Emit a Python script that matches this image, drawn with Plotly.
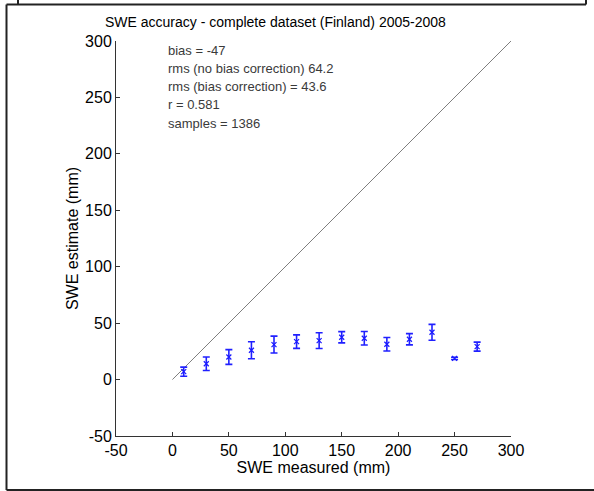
import plotly.graph_objects as go

# ---- data ----
swe_measured = [10, 30, 50, 70, 90, 110, 130, 150, 170, 190, 210, 230, 250, 270]
swe_estimate = [7, 14, 20, 26, 31, 33.6, 34.5, 37.5, 36.6, 31.3, 35.7, 41.9, 18.8, 29.2]
swe_error = [4, 6, 6.5, 7.5, 7.5, 6, 7, 5, 6, 6, 5, 7, 1, 4]
line_x = [0, 300]
line_y = [0, 300]
stats_lines = [
    "bias = -47",
    "rms (no bias correction) 64.2",
    "rms (bias correction) = 43.6",
    "r = 0.581",
    "samples = 1386",
]
tick_vals = [-50, 0, 50, 100, 150, 200, 250, 300]
tick_text = ["-50", "0", "50", "100", "150", "200", "250", "300"]

W, H = 594, 491
L, R, T, B = 116, 511, 41, 436
pw, ph = R - L, B - T


def px(x):
    return (x - L) / pw


def py(y):
    return (B - y) / ph


FONT = "Liberation Sans, Arial, sans-serif"

fig = go.Figure()
fig.add_trace(go.Scatter(
    x=line_x, y=line_y, mode="lines",
    line=dict(color="#7f7f7f", width=1), showlegend=False, hoverinfo="skip"))
fig.add_trace(go.Scatter(
    x=swe_measured, y=swe_estimate, mode="markers",
    marker=dict(symbol="x-thin", size=5, line=dict(color="#1a1aff", width=1.2), color="#1a1aff"),
    error_y=dict(type="data", array=swe_error, visible=True, color="#2020ff", thickness=1.6, width=3.5),
    showlegend=False))

axis_common = dict(
    range=[-50, 300], tickvals=tick_vals, ticktext=tick_text, ticks="inside", ticklen=4, tickwidth=1,
    tickcolor="#333333", showline=True, linecolor="#333333", linewidth=1,
    showgrid=False, zeroline=False, mirror=False,
    tickfont=dict(family=FONT, size=16, color="black"),
)

fig.update_layout(
    width=W, height=H,
    margin=dict(l=L, r=W - R, t=T, b=H - B),
    paper_bgcolor="white", plot_bgcolor="white",
    xaxis=dict(**axis_common,
               title=dict(text="SWE measured (mm)", font=dict(family=FONT, size=16, color="black"), standoff=2)),
    yaxis=dict(**axis_common,
               title=dict(text="SWE estimate (mm)", font=dict(family=FONT, size=16, color="black"), standoff=2)),
)

# title
fig.add_annotation(
    text="SWE accuracy - complete dataset (Finland) 2005-2008",
    xref="paper", yref="paper", x=px(275), y=py(22), xanchor="center", yanchor="middle",
    showarrow=False, font=dict(family=FONT, size=14, color="black"))

# stats text
for i, s in enumerate(stats_lines):
    fig.add_annotation(
        text=s, xref="paper", yref="paper", x=px(166), y=py(50 + 18.3 * i),
        xanchor="left", yanchor="middle", showarrow=False,
        font=dict(family=FONT, size=13, color="#3a3a3a"))

# frame lines (paper pixel positions)
frame = dict(color="#222222", width=2)
segments = [
    (6.5, 4.5, 586, 4.5),
    (6.5, 4.5, 6.5, 490),
    (6.5, 490, 594, 490),
    (18, 0, 18, 4.5),
    (586, 0, 586, 4.5),
]
for x0, y0, x1, y1 in segments:
    fig.add_shape(type="line", xref="paper", yref="paper",
                  x0=px(x0), y0=py(y0), x1=px(x1), y1=py(y1), line=frame)

fig.write_html("out.html")
